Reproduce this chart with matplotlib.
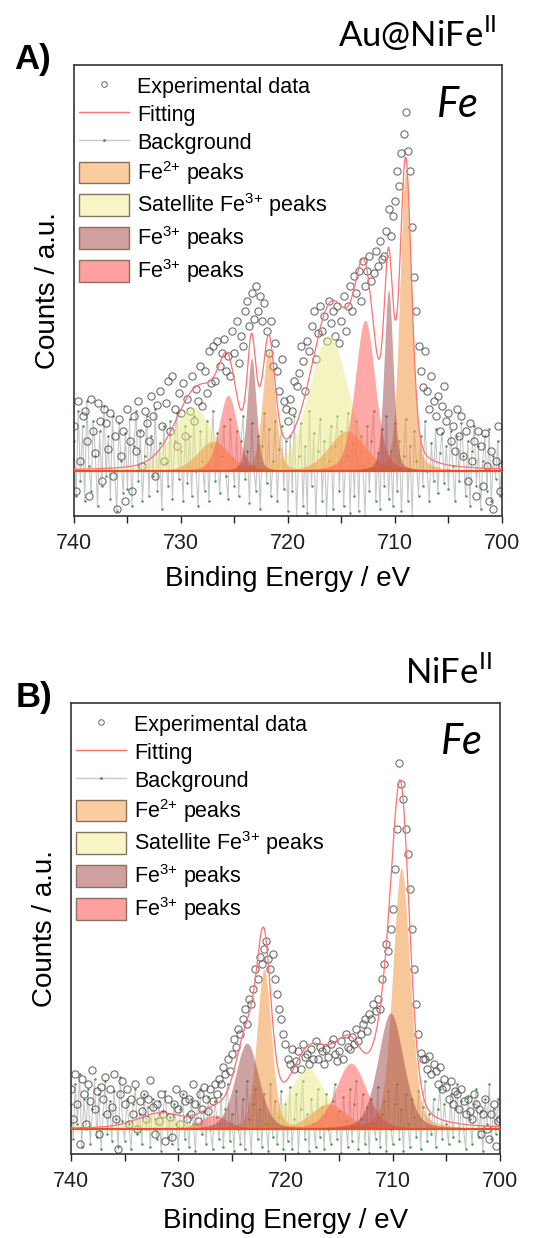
import numpy as np
import matplotlib.pyplot as plt
from matplotlib.lines import Line2D
from matplotlib.patches import Patch

plt.rcParams['font.family'] = ['Liberation Sans', 'DejaVu Sans']

# binding energy grid of the measured spectra (eV), 0.2 eV steps
energy = np.linspace(740, 700, 201)

# ---- panel A: Au@NiFe(II), Fe 2p ----
exp_a = [45, -20, 70, 10, 55, 60, 30, -25, 72, 40, 18, 68, 50, -10, 62,
         48, 22, 58, -5, 35, -38, 52, 15, 40, -30, 62, 30, -20, 55, 20,
         70, 38, 5, 60, 48, 30, 75, 55, -5, 66, 80, 45, 10, 68, 90,
         40, 95, 62, 25, 78, 58, 88, 35, 72, 60, 95, 50, 82, 70, 105,
         65, 100, 78, 120, 88, 125, 90, 130, 105, 118, 132, 100, 115, 95, 140,
         118, 150, 108, 135, 125, 160, 170, 145, 178, 152, 185, 160, 175, 150, 168,
         140, 118, 150, 105, 128, 100, 80, 112, 70, 62, 50, 72, 60, 90, 85,
         98, 125, 110, 80, 130, 120, 145, 160, 112, 138, 165, 140, 155, 130, 170,
         148, 160, 135, 165, 128, 150, 175, 140, 165, 185, 160, 195, 178, 200, 170,
         210, 185, 200, 215, 190, 198, 220, 205, 230, 212, 215, 240, 262, 235, 255,
         270, 300, 285, 318, 337, 359, 320, 300, 244, 194, 160, 125, 100, 84, 120,
         80, 62, 95, 70, 55, 75, 40, 65, 85, 50, 58, 30, 45, 20, 62,
         35, 55, 15, 40, -10, 48, 10, 30, -25, 40, 25, -15, 38, 5, -30,
         20, -38, 10, 45, -20, 5]
bg_a = [30, -25, 60, -10, 45, -30, 70, 5, -20, 50, 15, -35, 40, -15, 65,
        -5, 35, -28, 55, 0, -40, 48, 10, -22, 38,
        -18, 52, -35, 25, 60, -10, 40, -30, 15, 55, -25, 35, -5, 62, -20,
        28, -38, 45, 8, -15, 50, -28, 30, 58, -8,
        20, -30, 45, -12, 35, -25, 55, 0, -35, 40, 10, -20, 50, -30, 25,
        60, -10, 38, -22, 15, 45, -5, -28, 52, 12,
        -15, 40, -25, 30, 55, -8, 20, -32, 48, 5, -20, 35, -38, 25, 58,
        -12, 42, -25, 10, 50, -30, 22, 45, -18, 30,
        -40, 35, -20, 55, -45, 15, 48, -35, 25, -42, 60, -15, 38, -48, 20,
        52, -30, 30, -45, 10, 45, -38, 25, 55, -20,
        40, -35, 15, 58, -42, 28, -25, 50, -40, 35, 5, -45, 45, -20, 30,
        60, -30, 18, -38, 42, -15, 55, -28, 20, -35,
        48, -20, 30, -40, 15, 52, -30, 25, -45, 40, 10, -25, 35, -15, 50,
        0, -30, 28, -10, 42, -22, 18, 38, -12, 25,
        -18, 40, 5, -30, 35, -10, 48, 15, -25, 30, -35, 20, 45, -15, 25,
        -38, 10, 35, -20, 42, -30, 15, -8, 30, -25, 10]
fe2_pos_a = [709.0, 721.8, 714.5, 727.0]
fe2_h_a = [300, 121, 40, 30]
fe2_w_a = [1.3, 1.4, 4.0, 3.5]
sat_pos_a = [716.2, 728.9]
sat_h_a = [136, 64]
sat_w_a = [4.3, 4.5]
fe3a_pos_a = [710.6, 723.4]
fe3a_h_a = [181, 113]
fe3a_w_a = [1.0, 1.0]
fe3b_pos_a = [712.8, 725.6]
fe3b_h_a = [151, 76]
fe3b_w_a = [2.2, 2.0]

# ---- panel B: NiFe(II), Fe 2p ----
exp_b = [40, 10, 55, 25, -15, 50, 35, 5, 45, 28, 59, 20, 38, -5, 42,
         30, 52, 15, 40, 22, 55, 10, -20, 35, 48, 25, 40, 5, 30, 15,
         45, 0, 28, 18, 35, 10, 30, 49, 22, -5, 25, 8, 35, 15, -12,
         30, 12, -8, 25, 40, 20, 5, 35, 28, 10, 30, 15, 45, 25, 8,
         35, 20, 42, 30, 18, 40, 28, 45, 35, 50, 45, 62, 55, 70, 58,
         75, 90, 82, 100, 95, 110, 120, 105, 130, 125, 140, 160, 150, 172, 165,
         180, 188, 170, 160, 175, 150, 135, 120, 110, 95, 85, 70, 65, 80, 60,
         68, 78, 60, 85, 72, 75, 65, 80, 70, 88, 70, 82, 78, 65, 80,
         72, 85, 90, 75, 68, 78, 88, 70, 95, 82, 80, 92, 85, 100, 88,
         95, 105, 110, 98, 115, 110, 125, 118, 130, 120, 150, 165, 185, 178, 200,
         220, 260, 300, 366, 345, 330, 300, 275, 240, 200, 160, 125, 95, 76, 70,
         70, 60, 73, 55, 65, 58, 45, 62, 40, 50, 42, 30, 48, 25, 38,
         35, 20, 40, 28, 15, 30, 18, 10, 35, 25, 20, -5, 15, 30, 0,
         -10, 15, 25, -17, 8, 10]
bg_b = [25, -10, 45, 5, 55, -18, 30, 0, 40, -15, 20, 50, -8, 35, -20,
        15, 48, -5, 28, -12, 38, 10, -18, 52, 8,
        -12, 30, 5, -20, 25, 40, -5, 15, -15, 35, 0, 22, -18, 30, 10,
        -10, 28, -22, 18, 38, -8, 12, -15, 25, 5,
        -20, 20, 35, -10, 15, -18, 30, 5, -22, 25, 40, -5, 18, -15, 32,
        0, -20, 28, 12, -10, 35, -18, 20, 45, -12,
        15, -22, 38, 0, -15, 30, -20, 48, 10, -24, 25, 40, -10, 20, -18,
        35, 5, -22, 45, -8, 28, -15, 12, 38, -20,
        25, -12, 42, -20, 10, 35, -24, 20, 48, -10, 15, -22, 30, 5, -18,
        40, -8, 22, -20, 35, 0, -15, 28, 45, -10,
        18, -24, 32, 8, -18, 40, -12, 25, 48, -20, 10, 35, -15, 22, -24,
        30, 5, -10, 42, -18, 15, 28, -22, 38, 0,
        -15, 25, 45, -10, 20, -22, 35, 5, -18, 30, 12, -8, 38, -20, 22,
        48, -12, 15, -5, 30, -18, 20, 40, -10, 25,
        5, -15, 35, -8, 20, 45, -12, 28, 0, -20, 32, 10, -15, 25, 40,
        -8, 18, -22, 30, 5, 45, -10, 20, -5, 30, 10]
fe2_pos_b = [709.2, 722.0, 716.0]
fe2_h_b = [261, 160, 25]
fe2_w_b = [1.9, 1.6, 4.0]
sat_pos_b = [718.0, 731.7]
sat_h_b = [61, 14]
sat_w_b = [4.0, 5.0]
fe3a_pos_b = [710.2, 723.6]
fe3a_h_b = [116, 86]
fe3a_w_b = [2.8, 2.6]
fe3b_pos_b = [713.9, 726.7]
fe3b_h_b = [66, 14]
fe3b_w_b = [3.4, 3.0]

labels = ['Experimental data', 'Fitting', 'Background',
          r'Fe$^{\mathregular{2{+}}}$ peaks',
          r'Satellite Fe$^{\mathregular{3{+}}}$ peaks',
          r'Fe$^{\mathregular{3{+}}}$ peaks', r'Fe$^{\mathregular{3{+}}}$ peaks']

c_fe2 = '#F39A45'
c_sat = '#EAEA85'
c_fe3a = '#9E4646'
c_fe3b = '#FF5555'
patch_cols = ['#FACD9F', '#F6F6C6', '#D0A0A0', '#FFA0A0']

W, H = 552, 1238
fig = plt.figure(figsize=(W / 100, H / 100), dpi=100)
fine = np.linspace(740, 700, 1601)


def pv(x, c, h, w, eta=0.3):
    d = (x - c) / w
    return h * ((1 - eta) * np.exp(-4 * np.log(2) * d ** 2) + eta / (1 + 4 * d ** 2))


def px_axes(left, top, right, bottom):
    return fig.add_axes([left / W, 1 - bottom / H, (right - left) / W, (bottom - top) / H])


def panel(ax, exp, bg, groups, ylim):
    total = np.zeros_like(fine)
    ax.plot(energy, bg, color='#c8c8c8', lw=0.8, marker='.', ms=1.5,
            mfc='#3a9a3a', mec='#3a9a3a', zorder=1)
    ax.plot(energy, exp, ls='none', marker='o', ms=5.2, mfc='none',
            mec='#555555', mew=0.8, alpha=0.85, zorder=2)
    for pos, hts, wid, col, alp in groups:
        for c, h, w in zip(pos, hts, wid):
            y = pv(fine, c, h, w)
            total += y
            ax.fill_between(fine, 0, y, color=col, alpha=alp, lw=0, zorder=3)
    ax.plot(fine, np.zeros_like(fine), color='#E8501E', lw=1.6, zorder=4)
    ax.plot(fine, total, color='#FF7070', lw=0.9, zorder=5)
    ax.set_xlim(740, 700)
    ax.set_ylim(*ylim)
    ax.set_yticks([])
    ax.set_xticks([740, 730, 720, 710, 700])
    ax.set_xticks([735, 725, 715, 705], minor=True)
    ax.tick_params(axis='x', which='both', direction='out', length=5, width=1,
                   labelsize=15.5, pad=7, colors='#222222')
    for s in ax.spines.values():
        s.set_color('#333333')
        s.set_linewidth(1.2)
    ax.set_xlabel('Binding Energy / eV', fontsize=20)
    ax.set_ylabel('Counts / a.u.', fontsize=20)

    handles = [Line2D([], [], ls='none', marker='o', ms=4, mfc='none', mec='#777777', mew=0.8),
               Line2D([], [], color='#FF7070', lw=1),
               Line2D([], [], color='#c8c8c8', lw=1, marker='.', ms=2, mfc='#3a9a3a', mec='#3a9a3a')]
    handles += [Patch(facecolor=c, edgecolor='#8a7060', lw=1) for c in patch_cols]
    leg = ax.legend(handles, labels, loc='upper left', bbox_to_anchor=(0.012, 0.978),
                    frameon=False, fontsize=15.5, handlelength=2.3, handleheight=1.15,
                    handletextpad=0.4, labelspacing=0.23, borderpad=0, borderaxespad=0)
    return leg


groups_a = [(sat_pos_a, sat_h_a, sat_w_a, c_sat, 0.5),
            (fe2_pos_a, fe2_h_a, fe2_w_a, c_fe2, 0.55),
            (fe3b_pos_a, fe3b_h_a, fe3b_w_a, c_fe3b, 0.5),
            (fe3a_pos_a, fe3a_h_a, fe3a_w_a, c_fe3a, 0.5)]
groups_b = [(sat_pos_b, sat_h_b, sat_w_b, c_sat, 0.5),
            (fe2_pos_b, fe2_h_b, fe2_w_b, c_fe2, 0.55),
            (fe3b_pos_b, fe3b_h_b, fe3b_w_b, c_fe3b, 0.5),
            (fe3a_pos_b, fe3a_h_b, fe3a_w_b, c_fe3a, 0.5)]

axA = px_axes(74, 65, 502, 516)
panel(axA, exp_a, bg_a, groups_a, (-45, 406))
axA.xaxis.set_label_coords(0.5, -50 / 451)
axA.yaxis.set_label_coords(-13 / 428, 0.5)

axB = px_axes(71, 703, 500, 1154)
panel(axB, exp_b, bg_b, groups_b, (-25, 426))
axB.xaxis.set_label_coords(0.5, -54 / 451)
axB.yaxis.set_label_coords(-13 / 429, 0.5)


def ftext(x, y, s, **kw):
    fig.text(x / W, 1 - y / H, s, **kw)


ftext(33, 60, 'A)', fontsize=25, fontweight='bold', ha='center', va='center')
ftext(497, 33, r'Au@NiFe$^{\mathregular{II}}$', fontsize=25, family='Lato', ha='right', va='center')
ftext(458, 105, 'Fe', fontsize=30, family='Lato', style='italic', ha='center', va='center')
ftext(34, 697, 'B)', fontsize=25, fontweight='bold', ha='center', va='center')
ftext(492, 672, r'NiFe$^{\mathregular{II}}$', fontsize=25, family='Lato', ha='right', va='center')
ftext(462, 742, 'Fe', fontsize=30, family='Lato', style='italic', ha='center', va='center')

fig.savefig('out.png', dpi=100)
